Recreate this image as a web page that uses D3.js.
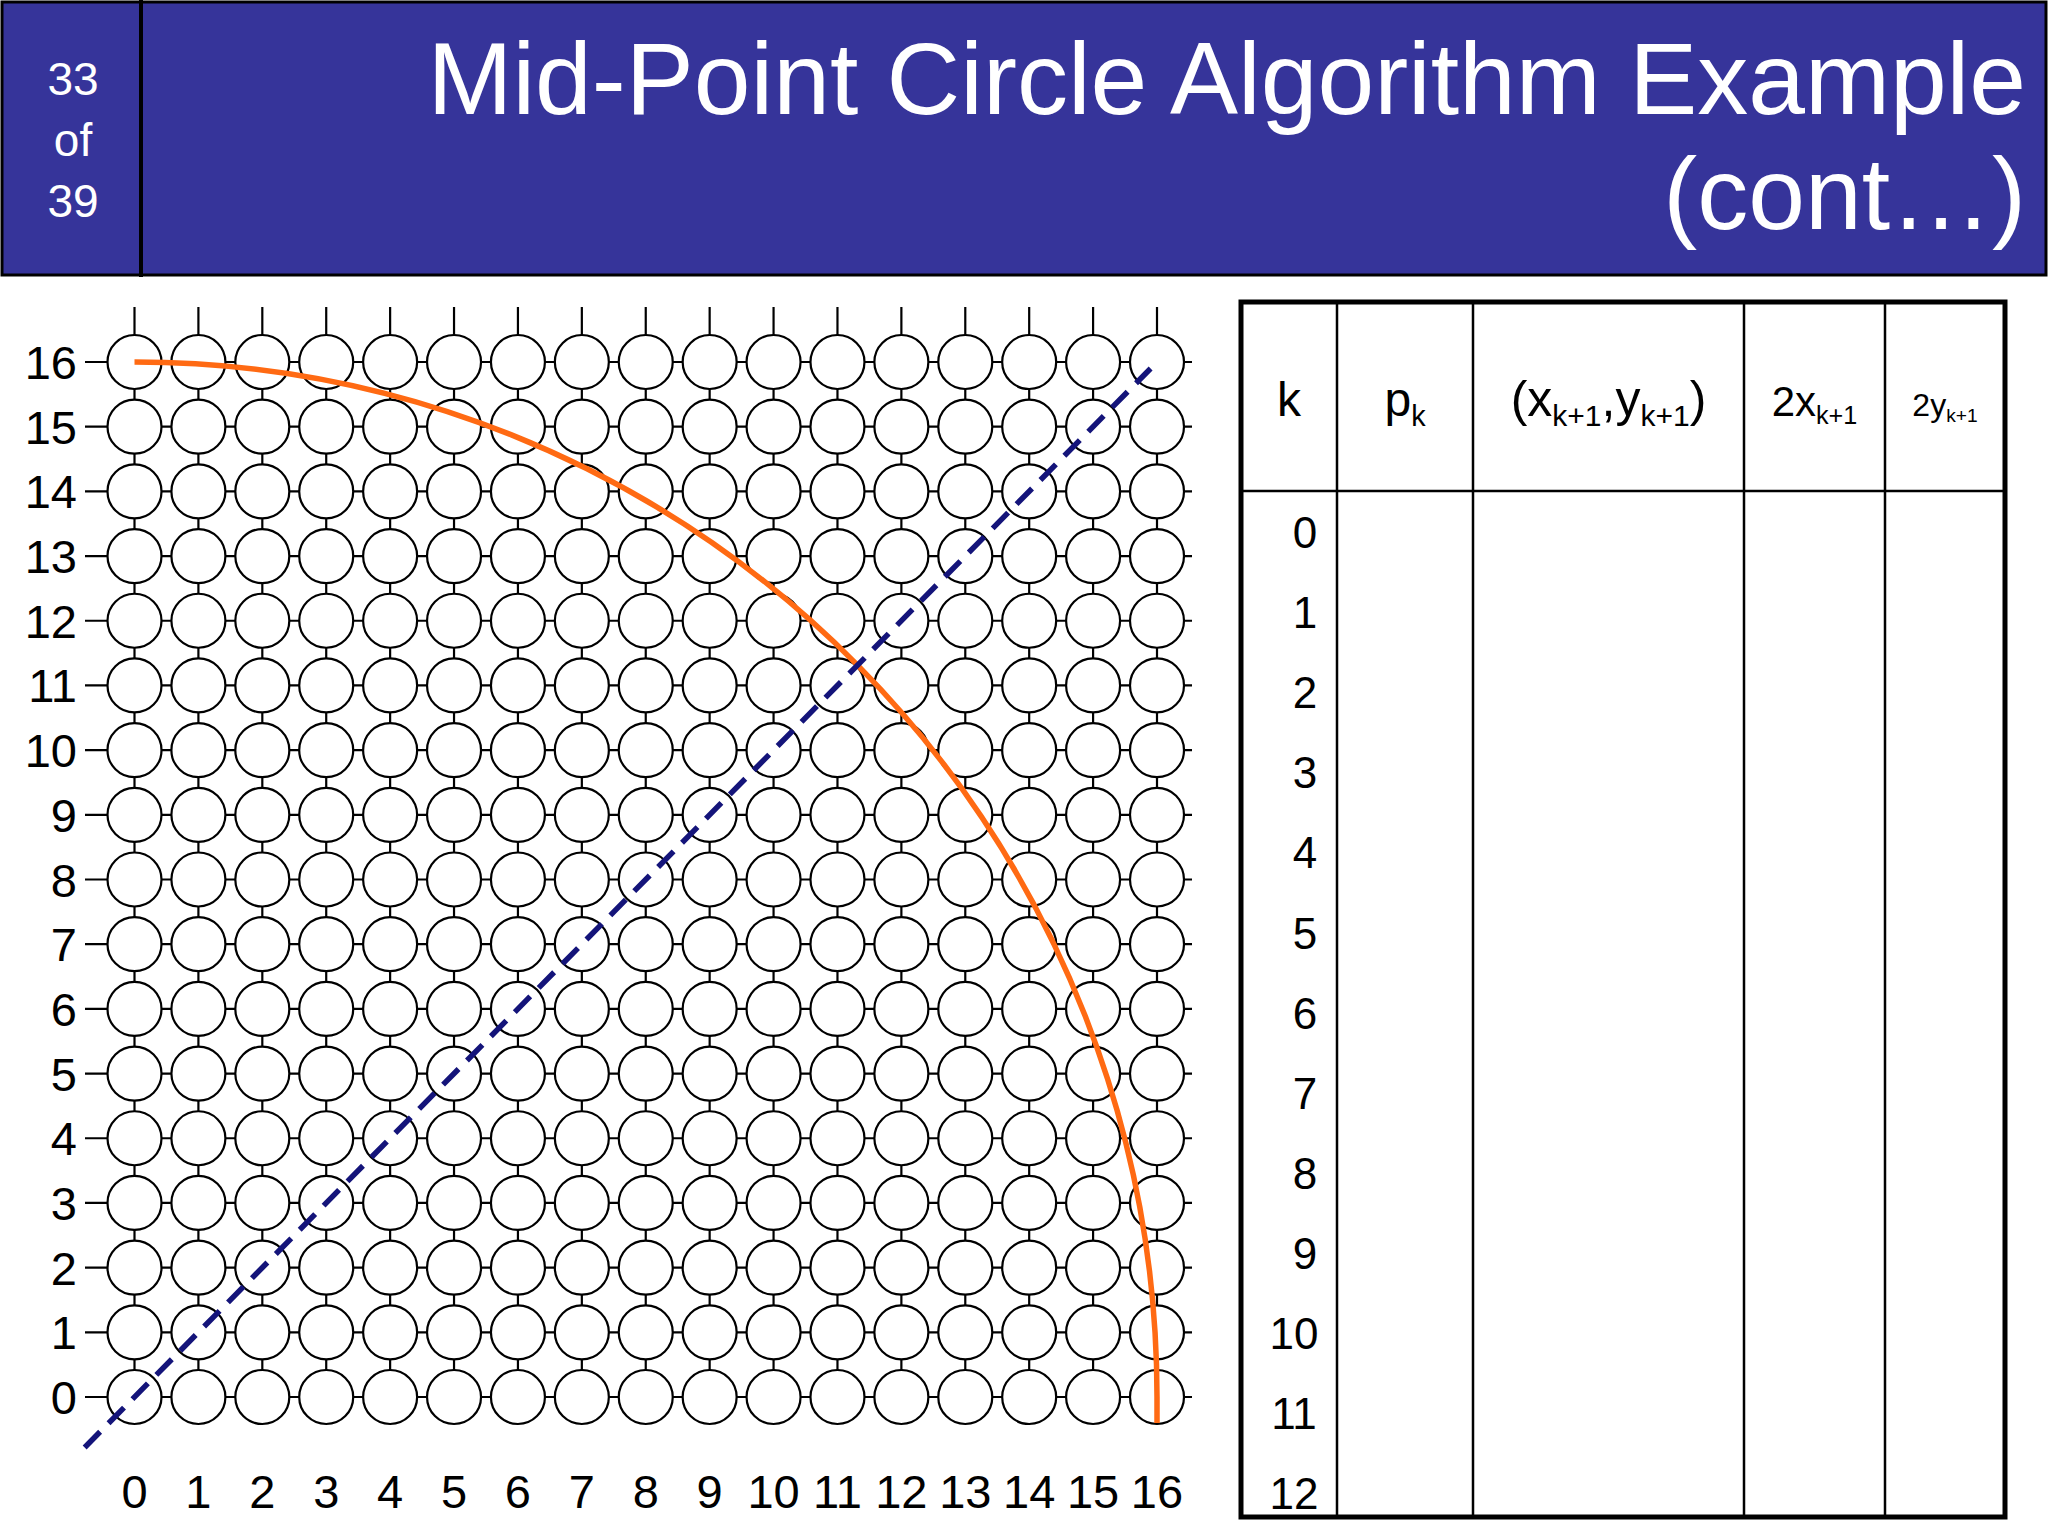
<!DOCTYPE html>
<html><head><meta charset="utf-8">
<script src="https://cdn.jsdelivr.net/npm/d3@7"></script>
<style>body{margin:0;background:#fff}svg{display:block;font-family:"Liberation Sans",Arial,sans-serif}</style>
</head><body>
<svg id="svg" width="2048" height="1536"></svg>
<script>
var slideNo = ['33', 'of', '39'];
var titleLines = ['Mid-Point Circle Algorithm Example', '(cont…)'];
var gridTicks = d3.range(0, 17);
var kRows = d3.range(0, 13);
var radius = 16;
var diagStart = [-0.78, -0.78], diagEnd = [15.9, 15.9];
var colHeads = [['k'], ['p', 'k'], ['(x', 'k+1', ',y', 'k+1', ')'], ['2x', 'k+1'], ['2y', 'k+1']];

var svg = d3.select('#svg');

// header band
svg.append('rect').attr('x', 2).attr('y', 2).attr('width', 2044).attr('height', 273)
	.attr('fill', '#36349a').attr('stroke', '#000').attr('stroke-width', 3);
svg.append('line').attr('x1', 141).attr('x2', 141).attr('y1', 0).attr('y2', 277)
	.attr('stroke', '#000').attr('stroke-width', 4);
svg.selectAll('text.num').data(slideNo).enter().append('text')
	.attr('x', 73).attr('y', (d, i) => 95 + i * 61)
	.attr('text-anchor', 'middle').attr('font-size', 46).attr('fill', '#fff').text(d => d);
svg.selectAll('text.title').data(titleLines).enter().append('text')
	.attr('x', 2026).attr('y', (d, i) => 114 + i * 115)
	.attr('text-anchor', 'end').attr('font-size', 102).attr('fill', '#fff').text(d => d);

// grid
var x = d3.scaleLinear().domain([0, 16]).range([134.5, 1157]);
var y = d3.scaleLinear().domain([0, 16]).range([1397, 362]);
var g = svg.append('g');
g.selectAll('line.v').data(gridTicks).enter().append('line')
	.attr('x1', d => x(d)).attr('x2', d => x(d)).attr('y1', 307).attr('y2', 1424)
	.attr('stroke', '#000').attr('stroke-width', 2.2);
g.selectAll('line.h').data(gridTicks).enter().append('line')
	.attr('y1', d => y(d)).attr('y2', d => y(d)).attr('x1', 85).attr('x2', 1192)
	.attr('stroke', '#000').attr('stroke-width', 2.2);
var cells = [];
gridTicks.forEach(i => gridTicks.forEach(j => cells.push([i, j])));
g.selectAll('circle').data(cells).enter().append('circle')
	.attr('cx', d => x(d[0])).attr('cy', d => y(d[1])).attr('r', 27)
	.attr('fill', '#fff').attr('stroke', '#000').attr('stroke-width', 2.2);
g.selectAll('text.xt').data(gridTicks).enter().append('text')
	.attr('x', d => x(d)).attr('y', 1508).attr('text-anchor', 'middle')
	.attr('font-size', 47).text(d => d);
g.selectAll('text.yt').data(gridTicks).enter().append('text')
	.attr('x', 77).attr('y', d => y(d) + 17).attr('text-anchor', 'end')
	.attr('font-size', 47).text(d => d);

// arc and diagonal
var rx = x(radius) - x(0), ry = y(0) - y(radius);
g.append('path')
	.attr('d', `M${x(0)},${y(radius)} A${rx},${ry} 0 0 1 ${x(radius)},${y(0)} L${x(radius)},${y(-0.4)}`)
	.attr('fill', 'none').attr('stroke', '#ff6a13').attr('stroke-width', 5.5);
g.append('line')
	.attr('x1', x(diagStart[0])).attr('y1', y(diagStart[1]))
	.attr('x2', x(diagEnd[0])).attr('y2', y(diagEnd[1]))
	.attr('stroke', '#14147a').attr('stroke-width', 5.5).attr('stroke-dasharray', '22,12');

// table
var colX = [1241, 1337, 1473, 1744, 1885, 2005];
var tTop = 302, headBottom = 491, tBottom = 1517;
var t = svg.append('g');
t.append('rect').attr('x', colX[0]).attr('y', tTop).attr('width', colX[5] - colX[0])
	.attr('height', tBottom - tTop).attr('fill', 'none').attr('stroke', '#000').attr('stroke-width', 5);
t.selectAll('line.c').data(colX.slice(1, 5)).enter().append('line')
	.attr('x1', d => d).attr('x2', d => d).attr('y1', tTop).attr('y2', tBottom)
	.attr('stroke', '#000').attr('stroke-width', 2.5);
t.append('line').attr('x1', colX[0]).attr('x2', colX[5]).attr('y1', headBottom).attr('y2', headBottom)
	.attr('stroke', '#000').attr('stroke-width', 2.5);
var headSize = [48, 48, 50, 42, 32];
colHeads.forEach(function(parts, ci) {
	var txt = t.append('text').attr('x', (colX[ci] + colX[ci + 1]) / 2).attr('y', 416)
		.attr('text-anchor', 'middle').attr('font-size', headSize[ci]);
	parts.forEach(function(p, pi) {
		var sub = pi % 2 == 1;
		txt.append('tspan').attr('font-size', sub ? headSize[ci] * 0.6 : headSize[ci])
			.attr('dy', sub ? headSize[ci] * 0.2 : (pi > 0 ? -headSize[ci] * 0.2 : 0)).text(p);
	});
});
t.selectAll('text.k').data(kRows).enter().append('text')
	.attr('x', d => d < 10 ? 1305 : 1294).attr('y', d => 548 + d * 80.1).attr('text-anchor', 'middle')
	.attr('font-size', 44).text(d => d);
</script>
</body></html>
